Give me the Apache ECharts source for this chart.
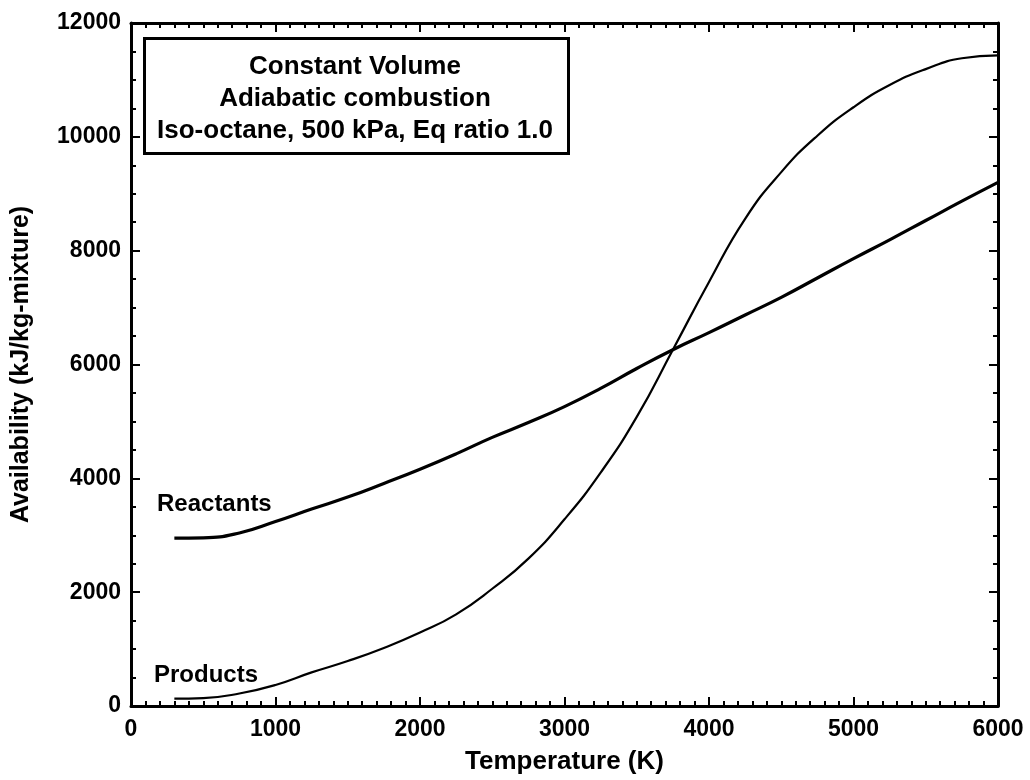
<!DOCTYPE html>
<html>
<head>
<meta charset="utf-8">
<script src="https://cdn.jsdelivr.net/npm/echarts@6/dist/echarts.min.js"></script>
<style>
html,body{margin:0;padding:0;background:#fff;}
#chart{width:1030px;height:780px;}
</style>
</head>
<body>
<div id="chart"></div>
<script>
// Temperature (K)
var temps = [300, 500, 750, 1000, 1250, 1500, 1750, 2000, 2250, 2500, 2750, 3000, 3250, 3500, 3750, 4000, 4250, 4500, 4750, 5000, 5250, 5500, 5750, 6000];
// Availability (kJ/kg-mixture)
var reactants = [2950, 2955, 3040, 3240, 3460, 3670, 3910, 4160, 4430, 4720, 4980, 5260, 5580, 5930, 6260, 6560, 6870, 7180, 7520, 7860, 8190, 8530, 8870, 9200];
var products = [130, 140, 220, 370, 590, 790, 1020, 1290, 1610, 2060, 2590, 3280, 4100, 5080, 6260, 7450, 8560, 9380, 10020, 10520, 10910, 11190, 11380, 11430];

var xTicks = [0, 1000, 2000, 3000, 4000, 5000, 6000];
var yTicks = [0, 2000, 4000, 6000, 8000, 10000, 12000];

var boxLines = ['Constant Volume', 'Adiabatic combustion', 'Iso-octane, 500 kPa, Eq ratio 1.0'];
var curveLabels = ['Reactants', 'Products'];

var FONT = '"Liberation Sans", Arial, sans-serif';

var chart = echarts.init(document.getElementById('chart'), null, {renderer: 'canvas'});

function mkData(vals) {
  return temps.map(function (t, i) { return [t, vals[i]]; });
}

var axisLine = {show: true, onZero: false, lineStyle: {color: '#000', width: 3}};
var axisTick = {show: true, inside: true, length: 9, lineStyle: {color: '#000', width: 2}};
var minorTickX = {show: true, splitNumber: 10, length: 5, lineStyle: {color: '#000', width: 2}};
var minorTickY = {show: true, splitNumber: 4, length: 5, lineStyle: {color: '#000', width: 2}};

var option = {
  backgroundColor: '#fff',
  animation: false,
  grid: {left: 131, right: 32, top: 23, bottom: 73, containLabel: false},
  xAxis: [
    {
      type: 'value', min: 0, max: 6000, interval: 1000, position: 'bottom',
      name: 'Temperature (K)', nameLocation: 'middle', nameGap: 43,
      nameTextStyle: {fontFamily: FONT, fontWeight: 'bold', fontSize: 26, color: '#000'},
      axisLine: axisLine, axisTick: axisTick, minorTick: minorTickX,
      splitLine: {show: false}, minorSplitLine: {show: false},
      axisLabel: {
        fontFamily: FONT, fontWeight: 'bold', fontSize: 23, color: '#000', margin: 12,
        formatter: function (v) { return xTicks.indexOf(v) >= 0 ? String(v) : ''; }
      }
    },
    {
      type: 'value', min: 0, max: 6000, interval: 1000, position: 'top',
      axisLine: axisLine, axisTick: axisTick, minorTick: minorTickX,
      splitLine: {show: false}, axisLabel: {show: false}
    }
  ],
  yAxis: [
    {
      type: 'value', min: 0, max: 12000, interval: 2000, position: 'left',
      name: 'Availability (kJ/kg-mixture)', nameLocation: 'middle', nameGap: 97,
      nameTextStyle: {fontFamily: FONT, fontWeight: 'bold', fontSize: 25, color: '#000'},
      axisLine: axisLine, axisTick: axisTick, minorTick: minorTickY,
      splitLine: {show: false}, minorSplitLine: {show: false},
      axisLabel: {
        fontFamily: FONT, fontWeight: 'bold', fontSize: 23, color: '#000', margin: 10,
        formatter: function (v) { return yTicks.indexOf(v) >= 0 ? String(v) : ''; }
      }
    },
    {
      type: 'value', min: 0, max: 12000, interval: 2000, position: 'right',
      axisLine: axisLine, axisTick: axisTick, minorTick: minorTickY,
      splitLine: {show: false}, axisLabel: {show: false}
    }
  ],
  series: [
    {
      name: 'Reactants', type: 'line', xAxisIndex: 0, yAxisIndex: 0,
      data: mkData(reactants), showSymbol: false, smooth: 0.5,
      lineStyle: {color: '#000', width: 3.2}, z: 3
    },
    {
      name: 'Products', type: 'line', xAxisIndex: 0, yAxisIndex: 0,
      data: mkData(products), showSymbol: false, smooth: 0.5,
      lineStyle: {color: '#000', width: 2.2}, z: 3
    }
  ],
  graphic: [
    {
      type: 'rect', left: 143, top: 37, z: 10,
      shape: {width: 424, height: 115},
      style: {fill: '#fff', stroke: '#000', lineWidth: 3}
    },
    {type: 'text', x: 355, y: 67, z: 11, style: {text: boxLines[0], fontFamily: FONT, fontWeight: 'bold', fontSize: 26, fill: '#000', align: 'center', verticalAlign: 'middle'}},
    {type: 'text', x: 355, y: 99, z: 11, style: {text: boxLines[1], fontFamily: FONT, fontWeight: 'bold', fontSize: 26, fill: '#000', align: 'center', verticalAlign: 'middle'}},
    {type: 'text', x: 355, y: 131, z: 11, style: {text: boxLines[2], fontFamily: FONT, fontWeight: 'bold', fontSize: 26, fill: '#000', align: 'center', verticalAlign: 'middle'}},
    {type: 'text', x: 157, y: 504, z: 11, style: {text: curveLabels[0], fontFamily: FONT, fontWeight: 'bold', fontSize: 24, fill: '#000', align: 'left', verticalAlign: 'middle'}},
    {type: 'text', x: 154, y: 675, z: 11, style: {text: curveLabels[1], fontFamily: FONT, fontWeight: 'bold', fontSize: 24, fill: '#000', align: 'left', verticalAlign: 'middle'}}
  ]
};

chart.setOption(option);
</script>
</body>
</html>
